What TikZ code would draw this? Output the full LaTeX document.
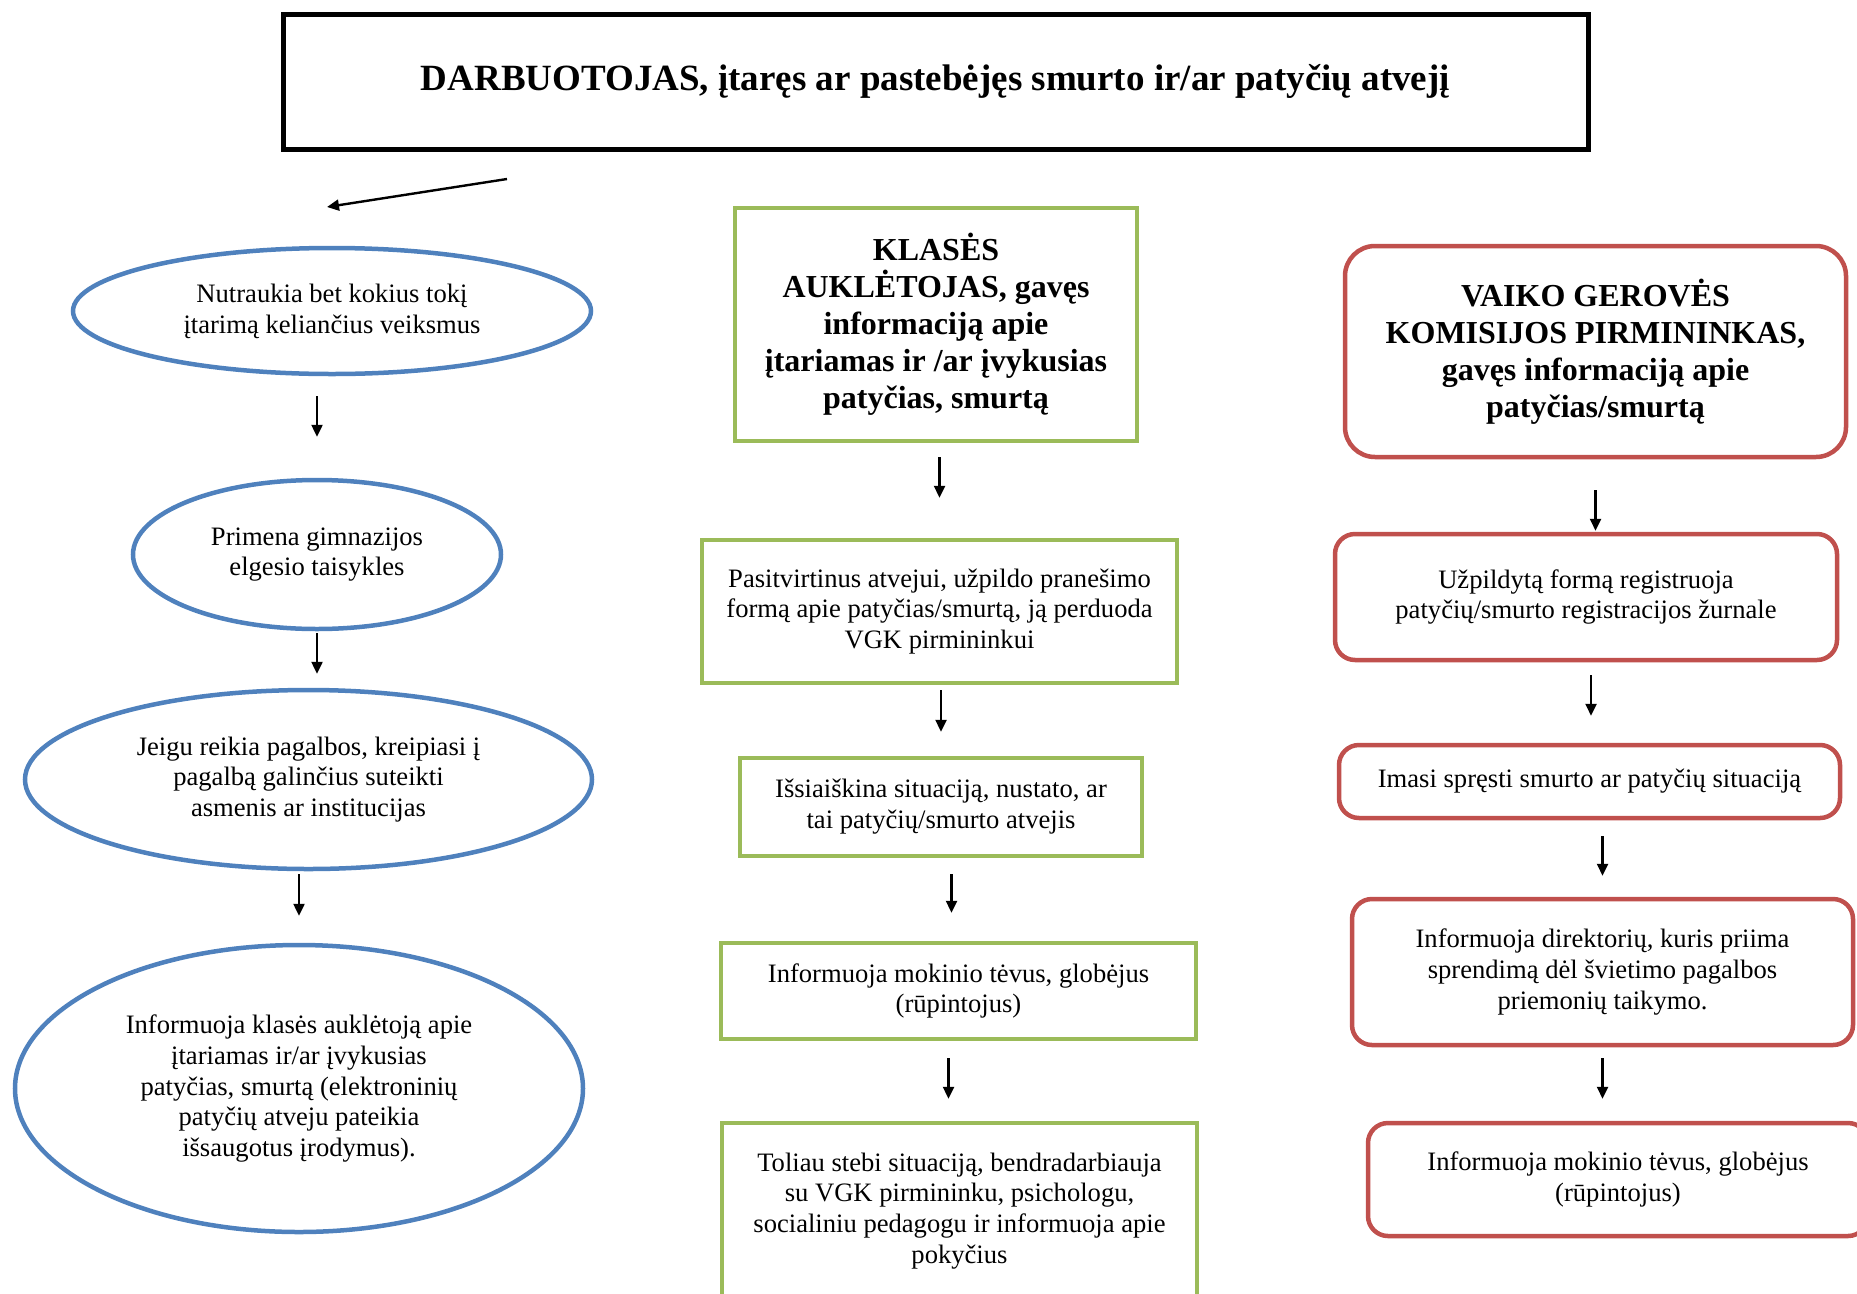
\documentclass[tikz,border=0pt]{standalone}
\usepackage{fontspec}
\setmainfont{Liberation Serif}
\usetikzlibrary{shapes.geometric,arrows.meta}
\definecolor{ovalblue}{HTML}{4F81BD}
\definecolor{boxgreen}{HTML}{9BBB59}
\definecolor{boxred}{HTML}{C0504D}

\begin{document}
\begin{tikzpicture}[x=1pt,y=-1pt,
    txt/.style={align=center,inner sep=0pt,font=\fontsize{26.6}{30.8}\selectfont},
    head/.style={txt,font=\fontsize{32}{37}\selectfont\bfseries},
    oval/.style={txt,ellipse,draw=ovalblue,line width=4.5pt},
    gbox/.style={draw=boxgreen,line width=4.5pt},
    rbox/.style={draw=boxred,line width=4.5pt,rounded corners=20pt},
    arr/.style={-{Triangle[length=12pt,width=11pt]},line width=2.4pt}]
    \clip (0,0) rectangle (1857,1293);
    \useasboundingbox (0,0) rectangle (1857,1293);

    \node[draw,line width=5pt,minimum width=1305pt,minimum height=135pt,
          font=\fontsize{37}{43}\selectfont\bfseries] (worker) at (935.5,81.5)
          {DARBUOTOJAS, įtaręs ar pastebėjęs smurto ir/ar patyčių atvejį};
    \coordinate (w1) at (507,179);
    \coordinate (w2) at (327,207);
    \draw[arr] (w1) -- (w2);

    % left column
    \node[oval,minimum width=518pt,minimum height=126pt] (e1) at (332,311)
          {Nutraukia bet kokius tokį\\įtarimą keliančius veiksmus};
    \node[oval,minimum width=368pt,minimum height=149pt] (e2) at (317,554.5)
          {Primena gimnazijos\\elgesio taisykles};
    \node[oval,minimum width=567pt,minimum height=179pt] (e3) at (308.5,779.5)
          {Jeigu reikia pagalbos, kreipiasi į\\pagalbą galinčius suteikti\\asmenis ar institucijas};
    \node[oval,minimum width=568pt,minimum height=287pt] (e4) at (299,1088.5)
          {Informuoja klasės auklėtoją apie\\įtariamas ir/ar įvykusias\\patyčias, smurtą (elektroninių\\patyčių atveju pateikia\\išsaugotus įrodymus).};

    % middle column
    \node[head,gbox,minimum width=402pt,minimum height=233pt] (m1) at (936,324.5)
          {KLASĖS\\AUKLĖTOJAS, gavęs\\informaciją apie\\įtariamas ir /ar įvykusias\\patyčias, smurtą};
    \node[txt,gbox,minimum width=475pt,minimum height=143pt] (m2) at (939.5,611.5)
          {Pasitvirtinus atvejui, užpildo pranešimo\\formą apie patyčias/smurtą, ją perduoda\\VGK pirmininkui};
    \node[txt,gbox,minimum width=402pt,minimum height=98pt] (m3) at (941,807)
          {Išsiaiškina situaciją, nustato, ar\\tai patyčių/smurto atvejis};
    \node[txt,gbox,minimum width=475pt,minimum height=96pt] (m4) at (958.5,991)
          {Informuoja mokinio tėvus, globėjus\\(rūpintojus)};
    \node[txt,gbox,minimum width=475pt,minimum height=176pt] (m5) at (959.5,1211)
          {Toliau stebi situaciją, bendradarbiauja\\su VGK pirmininku, psichologu,\\socialiniu pedagogu ir informuoja apie\\pokyčius};

    % right column
    \node[head,rbox,rounded corners=30pt,minimum width=501pt,minimum height=211pt] (r1) at (1595.5,351.5)
          {VAIKO GEROVĖS\\KOMISIJOS PIRMININKAS,\\gavęs informaciją apie\\patyčias/smurtą};
    \node[txt,rbox,minimum width=502pt,minimum height=126pt] (r2) at (1586,597)
          {Užpildytą formą registruoja\\patyčių/smurto registracijos žurnale};
    \node[txt,rbox,minimum width=501pt,minimum height=73pt] (r3) at (1589.5,781.5)
          {Imasi spręsti smurto ar patyčių situaciją};
    \node[txt,rbox,minimum width=501pt,minimum height=146pt] (r4) at (1602.5,972)
          {Informuoja direktorių, kuris priima\\sprendimą dėl švietimo pagalbos\\priemonių taikymo.};
    \node[txt,rbox,minimum width=500pt,minimum height=113pt] (r5) at (1618,1179.5)
          {Informuoja mokinio tėvus, globėjus\\(rūpintojus)};

    \draw[arr,shorten <=20pt,shorten >=41pt] (e1.south -| e2.north) -- (e2.north);
    \draw[arr,shorten <=2pt,shorten >=14pt] (e2.south) -- (e2.south |- e3.north);
    \draw[arr,shorten <=3pt,shorten >=27pt] (e3.south -| e4.north) -- (e4.north);

    \draw[arr,shorten <=14pt,shorten >=40pt] (m1.south -| m2.north) -- (m2.north);
    \draw[arr,shorten <=5pt,shorten >=24pt] (m2.south -| m3.north) -- (m3.north);
    \draw[arr,shorten <=16pt,shorten >=28pt] ([xshift=-7pt]m3.south -| m4.north) -- ([xshift=-7pt]m4.north);
    \draw[arr,shorten <=17pt,shorten >=22pt] ([xshift=-10pt]m4.south) -- ([xshift=-10pt]m4.south |- m5.north);

    \draw[arr,shorten <=31pt,shorten >=1pt] (r1.south) -- (r1.south |- r2.north);
    \draw[arr,shorten <=13pt,shorten >=27pt] ([xshift=5pt]r2.south) -- ([xshift=5pt]r2.south |- r3.north);
    \draw[arr,shorten <=16pt,shorten >=21pt] (r3.south -| r4.north) -- (r4.north);
    \draw[arr,shorten <=11pt,shorten >=22pt] (r4.south) -- (r4.south |- r5.north);
\end{tikzpicture}
\end{document}
